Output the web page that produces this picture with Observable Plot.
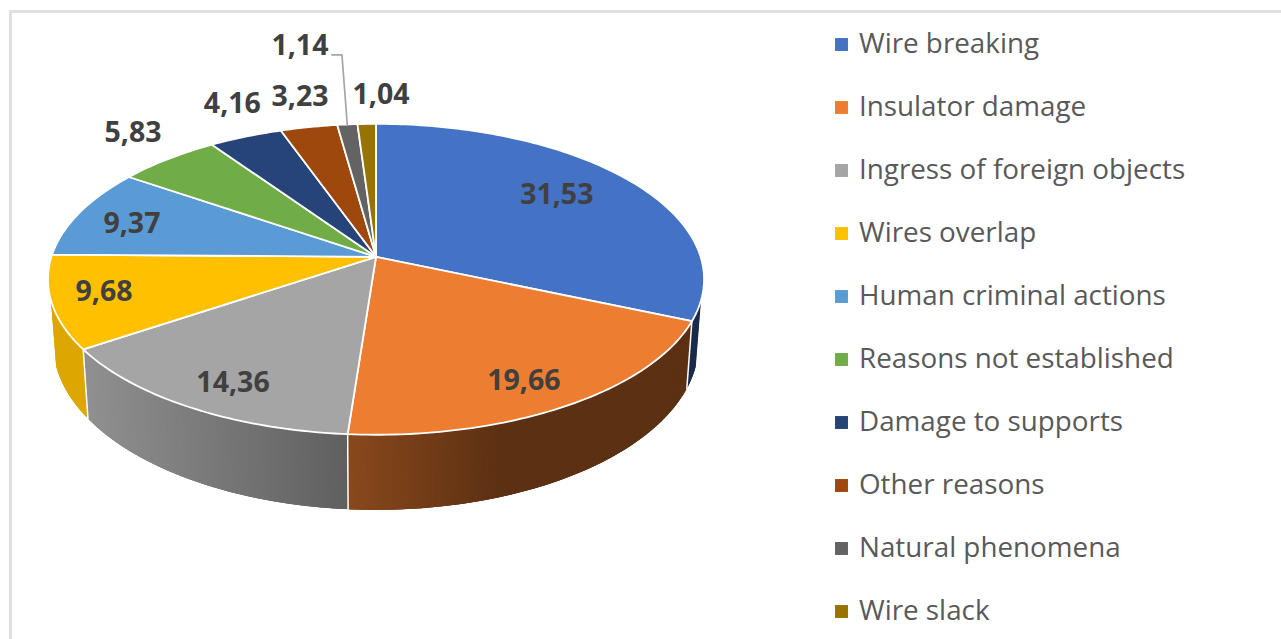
<!DOCTYPE html>
<html>
<head>
<meta charset="utf-8">
<script src="https://cdn.jsdelivr.net/npm/d3@7"></script>
<script src="https://cdn.jsdelivr.net/npm/@observablehq/plot@0.6"></script>
<style>
  html, body { margin: 0; padding: 0; background: #fff; overflow: hidden; width: 1281px; height: 639px; }
  #page { position: relative; display: flex; width: 1281px; height: 639px; overflow: hidden; }
  #page svg { display: block; flex: none; background: transparent; }
  #frame { position: absolute; left: 9px; top: 10px; width: 1400px; height: 800px;
           border-left: 3px solid #e0e0e0; border-top: 3px solid #e0e0e0; }
</style>
</head>
<body>
<div id="page"><div id="frame"></div></div>
<script>
const categories = ["Wire breaking", "Insulator damage", "Ingress of foreign objects", "Wires overlap",
  "Human criminal actions", "Reasons not established", "Damage to supports", "Other reasons",
  "Natural phenomena", "Wire slack"];
const values = [31.53, 19.66, 14.36, 9.68, 9.37, 5.83, 4.16, 3.23, 1.14, 1.04];
const colors = ["#4472C4", "#ED7D31", "#A5A5A5", "#FFC000", "#5B9BD5", "#70AD47", "#264478", "#9E480E", "#636363", "#997300"];
// Label placement relative to each slice: distance from centre (1 = rim) and turn from mid-angle, degrees.
const labelReach = [0.734, 0.835, 0.837, 0.841, 0.808, 1.254, 1.285, 1.27, 1.758, 1.258];
const labelTurn = [-3, 1.9, -2.1, 1.2, -1.6, 2.35, 3.2, 1.1, -3.8, 2.7];

const FONT = "'Open Sans', 'Noto Sans', sans-serif";
const rad = Math.PI / 180;

// Perspective view of the pie's top face.
const cx = 375.5, cy = 256.3, A = 324.6, B = 152.2, k = 0.1447;
function topFace(deg, r = 1) {
  const u = r * Math.sin(deg * rad), v = r * Math.cos(deg * rad), w = 1 + k * v;
  return [cx + A * u / w, cy - B * v / w];
}
function bottomFace(deg) {
  const [x, y] = topFace(deg);
  return [cx + (x - cx) * 0.984, cy + (y - cy) * 1.07 + 62.6];
}
const total = d3.sum(values);
const edges = [0, ...d3.cumsum(values).map(c => (c / total) * 360)];
const slices = values.map((v, i) => ({ i, v, a0: edges[i], a1: edges[i + 1], mid: (edges[i] + edges[i + 1]) / 2 }));

const shade = d3.scaleLinear().domain([88, 348, 500, 800]).range([0.87, 0.58, 0.39, 0.39]).clamp(true);
function wallColor(i, x) {
  const c = d3.rgb(colors[i]), s = shade(x);
  return d3.rgb(c.r * s, c.g * s, c.b * s).formatHex();
}

// Top faces
const faceRows = slices.flatMap(s => {
  const n = Math.max(2, Math.ceil(s.a1 - s.a0));
  const pts = [[cx, cy], ...d3.range(n + 1).map(j => topFace(s.a0 + (s.a1 - s.a0) * j / n)), [cx, cy]];
  return pts.map(([x, y]) => ({ x, y, id: s.i, color: colors[s.i] }));
});

// Side walls: overlapping thin strips, each painted over the last, for the horizontal shading
const wallStart = 106, wallEnd = 254, stepDeg = 0.5;
const wallRows = [];
slices.forEach(s => {
  const a = Math.max(s.a0, wallStart), b = Math.min(s.a1, wallEnd);
  for (let d = a; d < b; d += stepDeg) {
    const e = Math.min(d + 3 * stepDeg, b);
    const [x0, y0] = topFace(d), [x1, y1] = topFace(e), [x2, y2] = bottomFace(e), [x3, y3] = bottomFace(d);
    const color = wallColor(s.i, x0);
    const id = `${s.i}-${d}`;
    [[x0, y0], [x1, y1], [x2, y2], [x3, y3]].forEach(([x, y]) => wallRows.push({ x, y, id, color }));
  }
});

// White seams on the side wall
const seamRows = slices.slice(0, -1).filter(s => s.a1 > wallStart && s.a1 < wallEnd).flatMap(s => {
  const [x0, y0] = topFace(s.a1), [x1, y1] = bottomFace(s.a1);
  return [{ x: x0, y: y0, id: s.i }, { x: x1, y: y1, id: s.i }];
});

const labelRows = slices.map(s => {
  const [x, y] = topFace(s.mid + labelTurn[s.i], labelReach[s.i]);
  return { x, y, text: String(s.v).replace(".", ",") };
});

// Leader line of the one label that sits far from its slice
const far = d3.greatestIndex(labelReach);
const rimPoint = topFace(slices[far].mid);
const leaderRows = [
  { x: labelRows[far].x + 32, y: labelRows[far].y + 9 },
  { x: labelRows[far].x + 42, y: labelRows[far].y + 9 },
  { x: rimPoint[0], y: rimPoint[1] + 1 }
];

const pie = Plot.plot({
  width: 820, height: 639, margin: 0,
  x: { domain: [0, 820], range: [0, 820], axis: null },
  y: { domain: [0, 639], range: [0, 639], axis: null },
  marks: [
    Plot.line(wallRows, { x: "x", y: "y", z: "id", fill: "color", stroke: "none" }),
    Plot.line(seamRows, { x: "x", y: "y", z: "id", stroke: "#fff", strokeWidth: 1.5 }),
    Plot.line(faceRows, { x: "x", y: "y", z: "id", fill: "color", stroke: "#fff", strokeWidth: 1.8, strokeLinejoin: "round" }),
    Plot.line(leaderRows, { x: "x", y: "y", stroke: "#a6a6a6", strokeWidth: 1.7 }),
    Plot.text(labelRows, { x: "x", y: "y", text: "text", fill: "#404040", fontSize: 28.5, fontWeight: 700, fontFamily: FONT, textAnchor: "middle", lineAnchor: "middle" })
  ]
});

const legendPlot = Plot.plot({
  width: 461, height: 639, margin: 0,
  x: { domain: [0, 461], range: [0, 461], axis: null },
  y: { type: "point", domain: categories, range: [43, 612], padding: 0, axis: null },
  marks: [
    Plot.dot(categories, { x: () => 21, y: d => d, symbol: "square", r: 7.3, fill: (d, i) => colors[i] }),
    Plot.text(categories, { x: () => 38.5, y: d => d, text: d => d, textAnchor: "start", lineAnchor: "middle", fill: "#595959", fontSize: 27.8, fontFamily: FONT })
  ]
});

document.getElementById("page").append(pie, legendPlot);
</script>
</body>
</html>
